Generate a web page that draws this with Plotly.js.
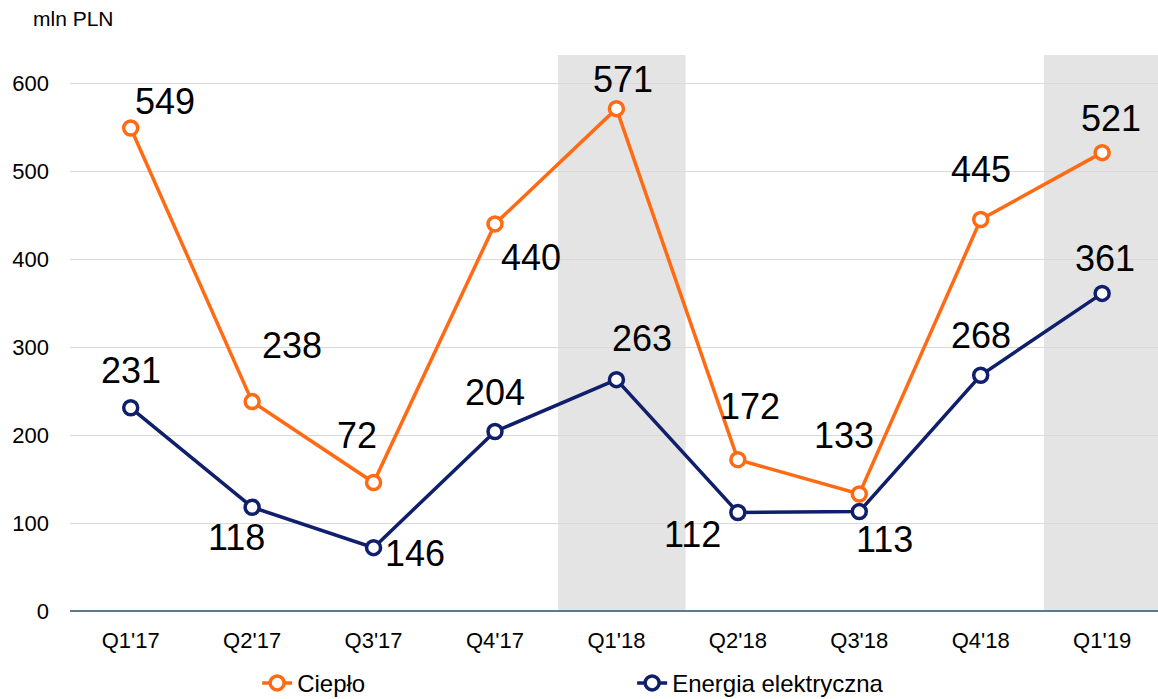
<!DOCTYPE html>
<html>
<head>
<meta charset="utf-8">
<script src="https://cdn.plot.ly/plotly-3.0.1.min.js"></script>
<style>html,body{margin:0;padding:0;background:#fff;}#chart{width:1158px;height:699px;}</style>
</head>
<body>
<div id="chart"></div>
<script>
// ---- data ----
const categories = ["Q1'17","Q2'17","Q3'17","Q4'17","Q1'18","Q2'18","Q3'18","Q4'18","Q1'19"];
const heatValues = [549, 238, 146, 440, 571, 172, 133, 445, 521];
const heatLabels = ["549","238","72","440","571","172","133","445","521"];
const powerValues = [231, 118, 72, 204, 263, 112, 113, 268, 361];
const powerLabels = ["231","118","146","204","263","112","113","268","361"];
const highlighted = ["Q1'18","Q1'19"];
const seriesNames = ["Ciepło", "Energia elektryczna"];
const yTicks = [0, 100, 200, 300, 400, 500, 600];
const unitLabel = "mln PLN";

// ---- label placement (pixel offsets, style only) ----
const heatOffsets = [[34,27],[40,56],[-17,47],[36,-34],[7,29],[12,53],[-15,58],[0,50],[9,34]];
const powerOffsets = [[0,37],[-16,-30],[41,-6],[0,39],[26,41],[-45,-22],[25,-28],[0,40],[3,35]];

const ORANGE = '#ff6a13';
const NAVY = '#0f1f6b';
const FONT = '"Liberation Sans", Arial, sans-serif';

function trace(vals, name, color) {
  return {
    x: categories, y: vals, name: name, type: 'scatter', mode: 'lines+markers',
    line: {color: color, width: 3.5},
    marker: {symbol: 'circle', size: 14, color: '#ffffff', line: {color: color, width: 3.5}},
    cliponaxis: false, hoverinfo: 'x+y'
  };
}

const annotations = [];
function addLabels(vals, labels, offs) {
  vals.forEach((v, i) => {
    annotations.push({
      x: categories[i], y: v, xref: 'x', yref: 'y', text: labels[i], showarrow: false,
      xshift: offs[i][0], yshift: offs[i][1],
      font: {family: FONT, size: 36, color: '#000'}
    });
  });
}
addLabels(heatValues, heatLabels, heatOffsets);
addLabels(powerValues, powerLabels, powerOffsets);
annotations.push({
  xref: 'paper', yref: 'paper', x: -0.036, y: 1.066, xanchor: 'left', yanchor: 'middle',
  text: unitLabel, showarrow: false, font: {family: FONT, size: 21, color: '#000'}
});

const shapes = highlighted.map(c => {
  const i = categories.indexOf(c);
  return {
    type: 'rect', xref: 'x', yref: 'paper', x0: i - 0.48, x1: i + 0.57, y0: 0, y1: 1,
    fillcolor: '#e4e4e4', line: {width: 0}, layer: 'below'
  };
});

const layout = {
  width: 1158, height: 699,
  margin: {l: 70, r: 0, t: 55, b: 88, autoexpand: false},
  paper_bgcolor: '#ffffff', plot_bgcolor: '#ffffff',
  font: {family: FONT, color: '#000'},
  showlegend: true,
  legend: {
    orientation: 'h', x: 0.172, xanchor: 'left', y: -0.13, yanchor: 'middle',
    entrywidth: 330, entrywidthmode: 'pixels',
    font: {family: FONT, size: 24, color: '#000'}, traceorder: 'normal'
  },
  xaxis: {
    type: 'category', range: [-0.5, 8.46], showgrid: false, zeroline: false,
    showline: false, ticks: '', ticklabelstandoff: 14, automargin: false,
    tickfont: {family: FONT, size: 22, color: '#000'}, fixedrange: true
  },
  yaxis: {
    range: [0, 632], tickvals: yTicks, ticktext: yTicks.map(String),
    showgrid: true, gridcolor: '#d9d9d9', gridwidth: 1,
    zeroline: true, zerolinecolor: '#5b7896', zerolinewidth: 2,
    showline: false, ticks: '', ticklabelstandoff: 20, automargin: false,
    tickfont: {family: FONT, size: 22, color: '#000'}, fixedrange: true
  },
  shapes: shapes,
  annotations: annotations
};

Plotly.newPlot('chart', [trace(heatValues, seriesNames[0], ORANGE), trace(powerValues, seriesNames[1], NAVY)], layout, {displayModeBar: false, staticPlot: true});
</script>
</body>
</html>
